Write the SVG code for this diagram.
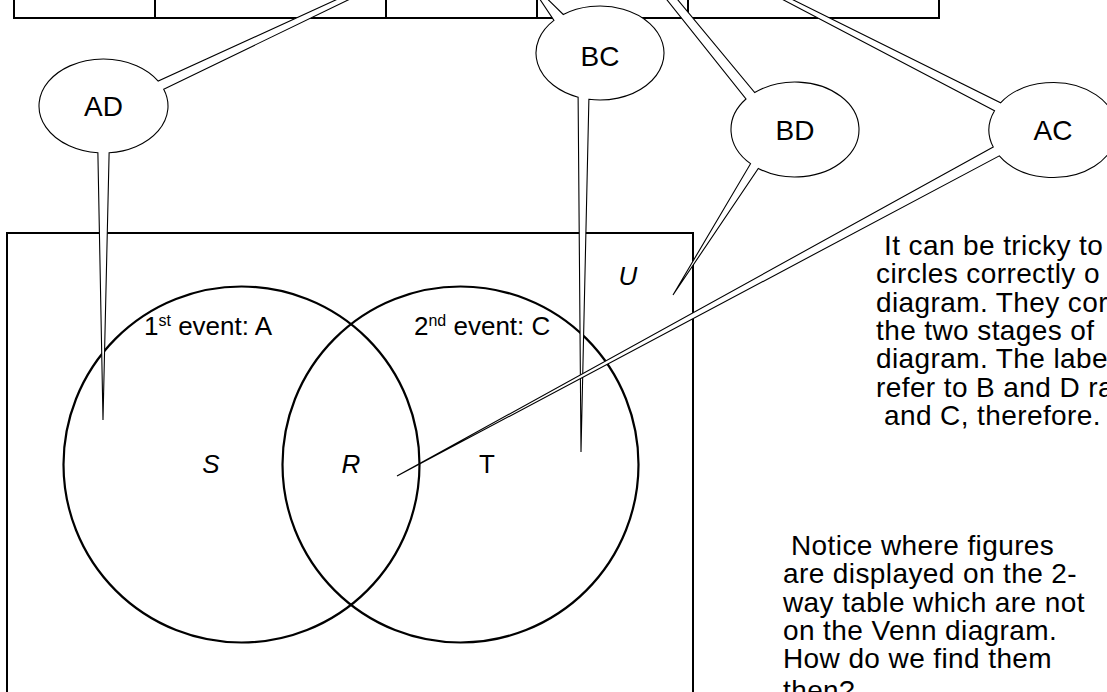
<svg xmlns="http://www.w3.org/2000/svg" width="1107" height="692" viewBox="0 0 1107 692">
<style>
.t{font-family:"Liberation Sans",Arial,Helvetica,sans-serif;fill:#000}
.p{font-size:28px;letter-spacing:0.4px}
.c{font-size:28px;text-anchor:middle}
.lbl{font-size:26px}
.mid{text-anchor:middle}
.it{font-style:italic}
.ln{fill:none;stroke:#000;stroke-width:2}
.circ{fill:none;stroke:#000;stroke-width:2.2}
.callout{fill:#fff;stroke:#000;stroke-width:1.1}
</style>
<rect width="1107" height="692" fill="#fff"/>
<g id="table">
<path class="ln" d="M14,-3 V18 H939 V-3 M155,-3 V18 M386,-3 V18 M537,-3 V18 M688,-3 V18"/>
</g>
<g id="venn-box">
<rect class="ln" x="7" y="233" width="686" height="470"/>
<text class="t lbl it mid" x="628" y="285">U</text>
</g>
<g id="circle-A">
<circle class="circ" cx="241.5" cy="464.5" r="178"/>
<text class="t lbl" x="144" y="335">1<tspan font-size="16" dy="-9">st</tspan><tspan dy="9"> event: A</tspan></text>
<text class="t lbl it mid" x="211" y="473">S</text>
</g>
<g id="circle-C">
<circle class="circ" cx="460.5" cy="464.5" r="178"/>
<text class="t lbl" x="414" y="335">2<tspan font-size="16" dy="-9">nd</tspan><tspan dy="9"> event: C</tspan></text>
<text class="t lbl mid" x="487" y="473">T</text>
</g>
<g id="intersection">
<text class="t lbl it mid" x="351" y="473">R</text>
</g>
<g id="connectors">
<g id="callout-AD">
<path class="callout" d="M163.72,89.16 A64.5,47 0 0 1 109.12,152.82 L103,420 L97.88,152.82 A64.5,47 0 1 1 158.20,81.09 L561,-103 Z"/>
<text class="t c" x="103.5" y="116">AD</text>
</g>
<g id="callout-BC">
<path class="callout" d="M578.11,97.17 A64,47 0 0 1 553.96,20.35 L525,-23 L563.29,14.50 A64,47 0 1 1 588.89,99.29 L581,452 Z"/>
<text class="t c" x="600" y="66">BC</text>
</g>
<g id="callout-BD">
<path class="callout" d="M750.54,163.67 A64,47.5 0 0 1 745.97,98.97 L400,-335 L754.72,92.59 A64,47.5 0 1 1 758.29,168.41 L673,295 Z"/>
<text class="t c" x="795" y="140">BD</text>
</g>
<g id="callout-AC">
<path class="callout" d="M993.25,147.02 A64,47.5 0 0 1 994.53,110.68 L614,-89 L1000.57,102.76 A64,47.5 0 1 1 999.32,155.87 L397,476 Z"/>
<text class="t c" x="1053" y="140">AC</text>
</g>
</g>
<g id="note-1" class="t p">
<text x="884" y="255">It can be tricky to</text>
<text x="876" y="283.3">circles correctly o</text>
<text x="876" y="311.6">diagram. They cor</text>
<text x="876" y="339.9">the two stages of</text>
<text x="876" y="368.2">diagram. The labe</text>
<text x="876" y="396.5">refer to B and D ra</text>
<text x="884" y="424.8">and C, therefore.</text>
</g>
<g id="note-2" class="t p">
<text x="791" y="555">Notice where figures</text>
<text x="783" y="583.3">are displayed on the 2-</text>
<text x="783" y="611.6">way table which are not</text>
<text x="783" y="639.9">on the Venn diagram.</text>
<text x="783" y="668.2">How do we find them</text>
<text x="783" y="700">then?</text>
</g>
</svg>
